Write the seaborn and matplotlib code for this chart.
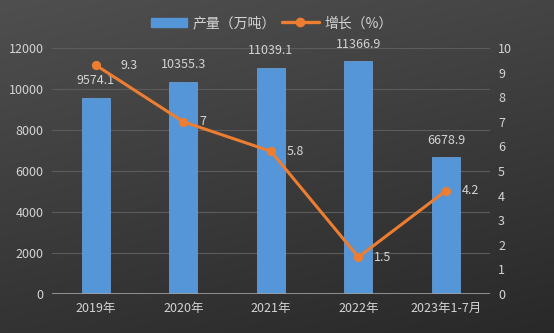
import matplotlib
matplotlib.use("Agg")
import matplotlib.pyplot as plt
import seaborn as sns
import numpy as np
import pandas as pd
from matplotlib.lines import Line2D
from matplotlib.patches import Patch

categories = ["2019年", "2020年", "2021年", "2022年", "2023年1-7月"]
output = [9574.1, 10355.3, 11039.1, 11366.9, 6678.9]
growth = [9.3, 7, 5.8, 1.5, 4.2]
output_labels = ["9574.1", "10355.3", "11039.1", "11366.9", "6678.9"]
growth_labels = ["9.3", "7", "5.8", "1.5", "4.2"]

sns.set_theme(style="dark")
plt.rcParams['font.family'] = ['Noto Sans CJK SC', 'DejaVu Sans']

txt = "#d4d4d4"
bar_c = "#5596d8"
line_c = "#ed7d31"
fs = 9

fig = plt.figure(figsize=(5.54, 3.33), dpi=100)
# background gradient
bg = fig.add_axes([0, 0, 1, 1], zorder=-10)
yy = np.linspace(0, 1, 200)[:, None]
xx = np.linspace(0, 1, 300)[None, :]
grad = 0.31 - 0.11 * yy - 0.04 * xx
bg.imshow(np.dstack([grad, grad, grad]), aspect="auto", extent=[0, 1, 0, 1], origin="upper")
bg.axis("off")

ax = fig.add_axes([0.094, 0.117, 0.79, 0.739])
ax.set_facecolor("none")
df = pd.DataFrame({"cat": categories, "out": output, "g": growth})
sns.barplot(data=df, x="cat", y="out", ax=ax, color=bar_c, width=0.32,
            saturation=1, edgecolor="#6aa6e2", linewidth=0.5, zorder=2)
ax.set_ylim(0, 12000)
ax.set_yticks(range(0, 12001, 2000))
ax.set_xlim(-0.5, 4.5)
ax.grid(axis="y", color="#5c5c5c", linewidth=0.8)
ax.set_axisbelow(True)
for s in ax.spines.values():
    s.set_visible(False)
ax.axhline(0, color="#a0a0a0", linewidth=1.2, zorder=3)
ax.set_xlabel("")
ax.set_ylabel("")
ax.tick_params(axis="both", colors=txt, labelsize=fs, length=0, pad=6)
for i, (v, lab) in enumerate(zip(output, output_labels)):
    ax.text(i, v + 500, lab, ha="center", va="bottom", color=txt, fontsize=fs, zorder=5)

ax2 = ax.twinx()
ax2.set_facecolor("none")
sns.pointplot(data=df, x="cat", y="g", ax=ax2, color=line_c, markers="o",
              markersize=5, linewidth=2.2, zorder=4)
ax2.set_ylim(0, 10)
ax2.set_yticks(range(0, 11))
ax2.set_xlim(-0.5, 4.5)
ax2.grid(False)
for s in ax2.spines.values():
    s.set_visible(False)
ax2.set_ylabel("")
ax2.set_xlabel("")
ax2.tick_params(axis="y", colors=txt, labelsize=fs, length=0, pad=6)
offsets = [0.28, 0.18, 0.18, 0.18, 0.18]
for i, (v, lab) in enumerate(zip(growth, growth_labels)):
    ax2.text(i + offsets[i], v, lab, ha="left", va="center", color=txt, fontsize=fs, zorder=5)

handles = [Patch(facecolor=bar_c, edgecolor=bar_c),
           Line2D([0], [0], color=line_c, linewidth=2.4, marker="o", markersize=6)]
fig.legend(handles, ["产量（万吨）", "增长（%）"], loc="center", bbox_to_anchor=(0.49, 0.93),
           ncol=2, frameon=False, labelcolor=txt, fontsize=10, handlelength=2.6,
           columnspacing=0.5, handletextpad=0.4)

fig.savefig("out.png", dpi=100)
